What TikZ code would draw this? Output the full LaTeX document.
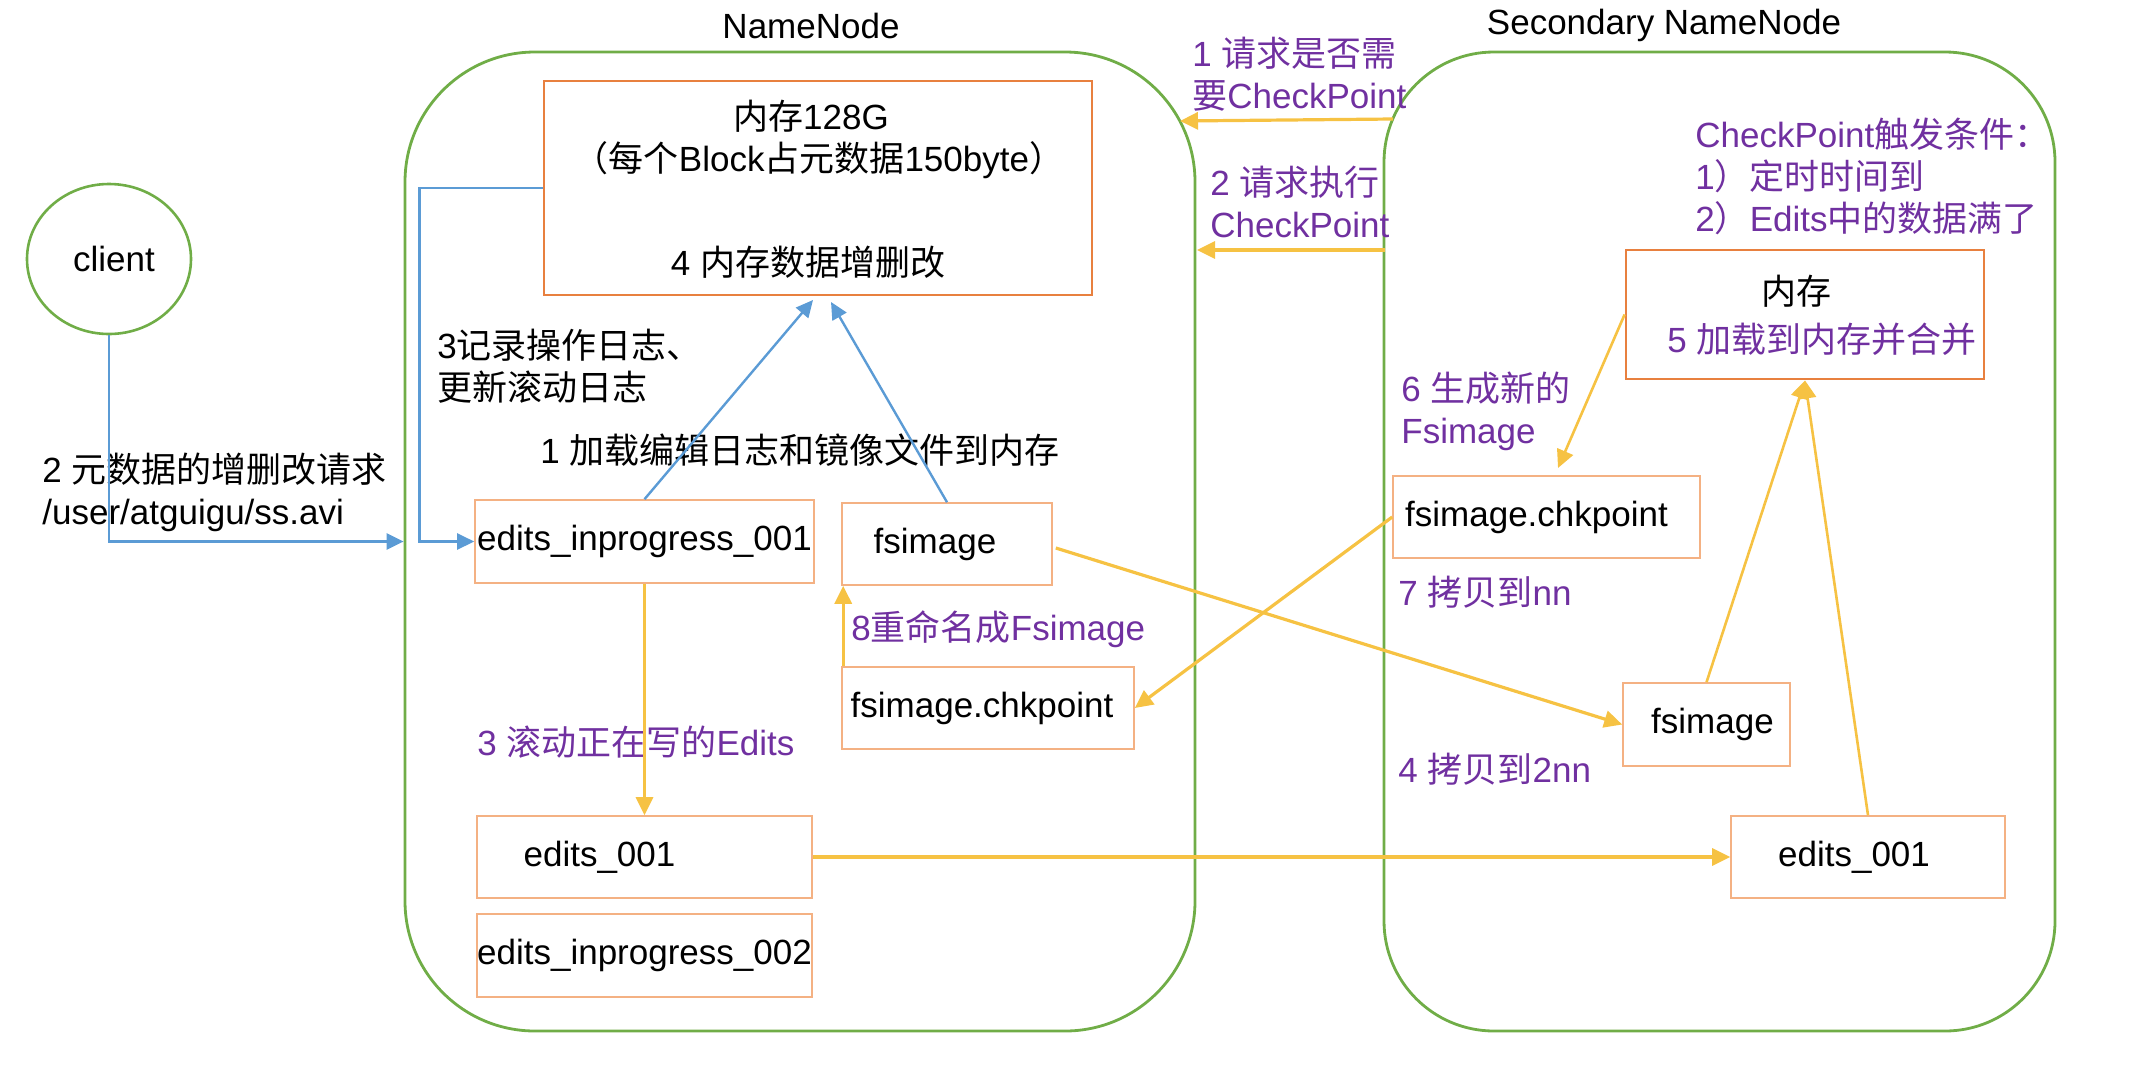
\documentclass[tikz,border=0pt]{standalone}
\usepackage{fontspec}
\setmainfont{Liberation Sans}
\newfontfamily\cjk{Noto Sans CJK SC}
\usetikzlibrary{arrows.meta,shapes.geometric}
\definecolor{cgreen}{HTML}{70AD47}
\definecolor{corange}{HTML}{E8803F}
\definecolor{clight}{HTML}{F4B183}
\definecolor{cblue}{HTML}{5B9BD5}
\definecolor{cyellow}{HTML}{F6C243}
\definecolor{cpurple}{HTML}{7030A0}
\begin{document}
\begin{tikzpicture}[x=0.5pt,y=-0.5pt,
  font=\fontsize{17.5}{21}\selectfont,
  container/.style={draw=cgreen, line width=1.4pt, inner sep=0},
  membox/.style={draw=corange, line width=1.4pt, inner sep=0},
  filebox/.style={draw=clight, line width=0.8pt, inner sep=0},
  lbl/.style={inner sep=0, anchor=west, align=left},
  plbl/.style={lbl, text=cpurple},
  barrow/.style={draw=cblue, line width=1.2pt, -{Triangle[length=8.5pt,width=8pt]}},
  yarrow/.style={draw=cyellow, line width=1.6pt, -{Triangle[length=9pt,width=8.5pt]}},
  ythin/.style={draw=cyellow, line width=1.3pt, -{Triangle[length=9pt,width=8.5pt]}}
]
\useasboundingbox (0,0) rectangle (2130,1088);

% containers
\node[container, rounded corners=65pt, minimum width=395pt, minimum height=489.5pt] (nn) at (800,541.5) {};
\node[container, rounded corners=55pt, minimum width=335.5pt, minimum height=489.5pt] (snn) at (1719.5,541.5) {};
\node (nntitle) at (811,26) {NameNode};
\node (snntitle) at (1664,25) {Secondary NameNode};

% client
\node[ellipse, draw=cgreen, line width=1.3pt, inner sep=0, minimum width=82pt, minimum height=75pt] (client) at (109,259) {\kern5pt\raisebox{-3pt}{client}};

% NameNode memory
\node[membox, minimum width=274pt, minimum height=107pt] (mem) at (818,188) {};
\node (memA) at (811,116) {{\cjk 内存}128G};
\node (memB) at (819,160) {{\cjk （每个}Block{\cjk 占元数据}150byte{\cjk ）}};
\node (memC) at (808,262) {4 {\cjk 内存数据增删改}};

% NameNode files
\node[filebox, minimum width=169.5pt, minimum height=41.5pt] (eip1) at (644.5,541.5) {edits\_inprogress\_001};
\node[filebox, minimum width=105pt, minimum height=41pt] (fsNN) at (947,544) {fsimage\kern12pt};
\node[filebox, minimum width=146pt, minimum height=41pt] (ckNN) at (988,708) {fsimage.chkpoint\kern6pt};
\node[filebox, minimum width=167.5pt, minimum height=41pt] (e1) at (644.5,857) {edits\_001\kern45pt};
\node[filebox, minimum width=167.5pt, minimum height=41.5pt] (eip2) at (644.5,955.5) {edits\_inprogress\_002};

% Secondary files
\node[filebox, minimum width=153.5pt, minimum height=41pt] (ckS) at (1546.5,517) {fsimage.chkpoint\kern10pt};
\node[membox, minimum width=179pt, minimum height=64.5pt] (memS) at (1805,314.5) {};
\node (memSA) at (1796,291) {{\cjk 内存}};
\node[text=cpurple] (memSB) at (1822,339) {5 {\cjk 加载到内存并合并}};
\node[filebox, minimum width=83.5pt, minimum height=41.5pt] (fsS) at (1706.5,724.5) {\kern6pt fsimage};
\node[filebox, minimum width=137pt, minimum height=41pt] (e1S) at (1868,857) {edits\_001\kern14pt};

% labels
\node[lbl] (l3) at (437,366.5) {3{\cjk 记录操作日志、}\\{\cjk 更新滚动日志}};
\node[lbl] (l2) at (42,492.5) {2 {\cjk 元数据的增删改请求}\\/user/atguigu/ss.avi};
\node[lbl] (l1) at (540,450) {1 {\cjk 加载编辑日志和镜像文件到内存}};
\node[plbl] (l3b) at (477,742) {3 {\cjk 滚动正在写的}Edits};
\node[plbl] (l8) at (851,629) {8{\cjk 重命名成}Fsimage};
\node[plbl] (l4) at (1398,769) {4 {\cjk 拷贝到}2nn};
\node[plbl] (l7) at (1398,592) {7 {\cjk 拷贝到}nn};
\node[plbl] (l6) at (1401,411.5) {6 {\cjk 生成新的}\\Fsimage};
\node[plbl] (lr1) at (1192,74) {1 {\cjk 请求是否需}\\{\cjk 要}CheckPoint};
\node[plbl] (lr2) at (1210,201.5) {2 {\cjk 请求执行}\\CheckPoint};
\node[plbl] (lcond) at (1695,176) {CheckPoint{\cjk 触发条件：}\\1{\cjk ）定时时间到}\\2{\cjk ）}Edits{\cjk 中的数据满了}};

% coordinates
\coordinate (m1) at (813,300);
\coordinate (m2) at (831,302);
\coordinate (c6) at (1558,468);
\coordinate (r1s) at (1393,119);
\coordinate (r1e) at (1180,121);
\coordinate (r2s) at (1385,250);
\coordinate (r2e) at (1197,250);

% blue arrows
\draw[barrow] (client.south) |- (nn.west);
\draw[barrow] (mem.west) -- ++(-123,0) |- (eip1.west);
\draw[barrow] (eip1.north) -- (m1);
\draw[barrow] (fsNN.north) -- (m2);

% yellow arrows
\draw[yarrow] (eip1.south) -- (e1.north);
\draw[yarrow] ([xshift=1pt]ckNN.north west) -- ([xshift=1pt]fsNN.south west);
\draw[yarrow] (e1.east) -- (e1S.west);
\draw[yarrow] ([xshift=1.5pt,yshift=-2pt]fsNN.east) -- (fsS.west);
\draw[yarrow] (ckS.west) -- (ckNN.east);
\draw[ythin] (memS.west) -- (c6);
\draw[ythin] (fsS.north) -- (memS.south);
\draw[ythin] (e1S.north) -- (memS.south);
\draw[yarrow] (r1s) -- (r1e);
\draw[yarrow] (r2s) -- (r2e);
\end{tikzpicture}
\end{document}
